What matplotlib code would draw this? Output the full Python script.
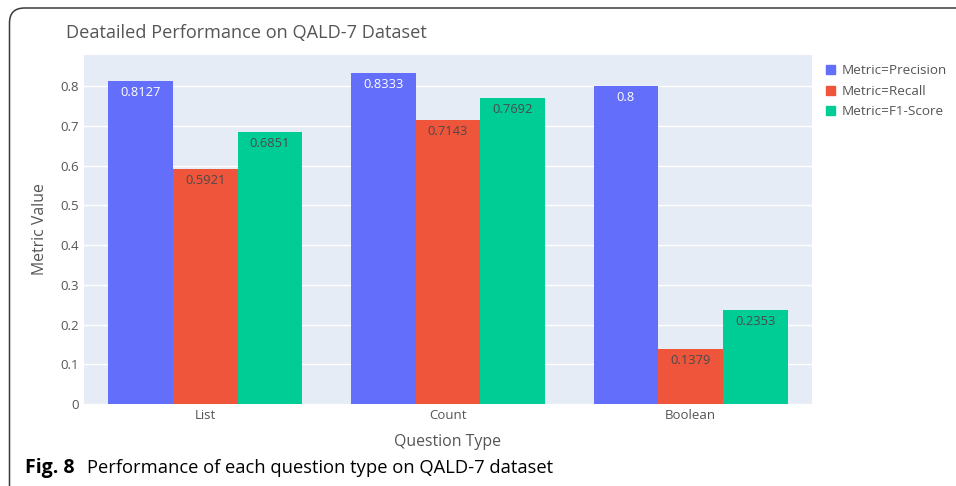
import numpy as np
import matplotlib.pyplot as plt
from matplotlib.patches import FancyBboxPatch, Patch

plt.rcParams['font.family'] = ['Open Sans', 'DejaVu Sans']

# data
questionTypes = ['List', 'Count', 'Boolean']
metrics = ['Precision', 'Recall', 'F1-Score']
precision = [0.8127, 0.8333, 0.8]
recall = [0.5921, 0.7143, 0.1379]
f1Score = [0.6851, 0.7692, 0.2353]
yTicks = [0, 0.1, 0.2, 0.3, 0.4, 0.5, 0.6, 0.7, 0.8]

colors = ['#636EFA', '#EF553B', '#00CC96']
textColors = ['white', '#4a4a4a', '#4a4a4a']
W, H = 956, 486

fig = plt.figure(figsize=(W / 100, H / 100), dpi=100)

# rounded frame round the figure
frame = FancyBboxPatch((0.095, -1.0), 12, 4.78 + 1.0,
                       boxstyle='round,pad=0,rounding_size=0.15',
                       transform=fig.dpi_scale_trans, fill=False,
                       edgecolor='#3a3a3a', linewidth=1.1)
fig.patches.append(frame)

# axes placed by pixel
left, right, top, bottom = 84, 812, 55, 404
ax = fig.add_axes([left / W, (H - bottom) / H, (right - left) / W, (bottom - top) / H])
ax.set_facecolor('#E5ECF6')

x = np.arange(len(questionTypes))
barW = 0.8 / 3
allValues = [precision, recall, f1Score]
for i, values in enumerate(allValues):
    pos = x + (i - 1) * barW
    ax.bar(pos, values, width=barW, color=colors[i], zorder=3,
           label='Metric=' + metrics[i])
    for px, v in zip(pos, values):
        ax.annotate(str(v), (px, v), xytext=(0, -3.5), textcoords='offset points',
                    ha='center', va='top', fontsize=9.3, color=textColors[i], zorder=4)

ax.set_xlim(-0.5, 2.5)
ax.set_ylim(0, 0.878)
ax.set_yticks(yTicks)
ax.set_yticklabels(['0'] + [str(t) for t in yTicks[1:]])
ax.set_xticks(x)
ax.set_xticklabels(questionTypes)
ax.grid(axis='y', color='white', linewidth=1, zorder=0)
ax.set_axisbelow(True)
for s in ax.spines.values():
    s.set_visible(False)
ax.tick_params(length=0, labelsize=9.5, colors='#555555', pad=3.5)
ax.set_xlabel('Question Type', fontsize=11.4, color='#555555', labelpad=9)
ax.set_ylabel('Metric Value', fontsize=11.4, color='#555555', labelpad=9)

fig.text(66 / W, 1 - 33 / H, 'Deatailed Performance on QALD-7 Dataset',
         fontsize=13.1, color='#555555', va='center', ha='left')

handles = [Patch(color=c) for c in colors]
fig.legend(handles, ['Metric=' + m for m in metrics], loc='upper left',
           bbox_to_anchor=(821 / W, 1 - 59 / H), frameon=False,
           fontsize=9.7, handlelength=0.65, handleheight=0.65, handletextpad=0.5,
           labelspacing=0.55, labelcolor='#555555', borderaxespad=0)

# caption
fig.text(25 / W, 18 / H, 'Fig. 8', fontsize=14, fontweight='bold', va='center', ha='left')
fig.text(87 / W, 18 / H, 'Performance of each question type on QALD-7 dataset',
         fontsize=13.2, va='center', ha='left')

fig.savefig('out.png', dpi=100)
